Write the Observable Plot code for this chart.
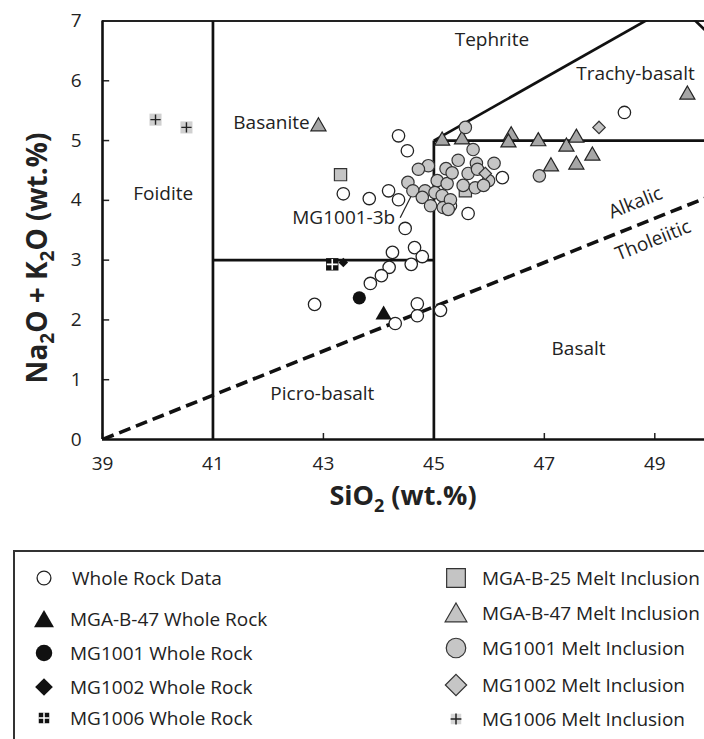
<!DOCTYPE html>
<html>
<head>
<meta charset="utf-8">
<script src="https://cdn.jsdelivr.net/npm/d3@7"></script>
<script src="https://cdn.jsdelivr.net/npm/@observablehq/plot@0.6"></script>
<style>
html,body{margin:0;padding:0;background:#fff;}
body{width:704px;height:739px;overflow:hidden;position:relative;font-family:"Open Sans",sans-serif;color:#222;}
#chart{position:absolute;left:0;top:0;}
#legend{position:absolute;left:13px;top:550px;width:760px;height:240px;border-top:2px solid #333;border-left:2px solid #333;}
.item{position:absolute;height:26px;display:flex;align-items:center;white-space:nowrap;font-size:19px;color:#222;}
.sym{position:absolute;}
</style>
</head>
<body>
<div id="chart"></div>
<div id="legend"></div>
<script>
// ---------- axis ticks ----------
const xTicks = [39, 41, 43, 45, 47, 49];
const yTicks = [0, 1, 2, 3, 4, 5, 6, 7];

// ---------- TAS field boundaries [x1, y1, x2, y2] ----------
const boundaries = [
  [41, 0, 41, 7],
  [41, 3, 45, 3],
  [45, 0, 45, 5],
  [45, 5, 52, 5],
  [45, 5, 49.4, 7.3],
  [52, 5, 49.4, 7.3]
];
// Alkalic / Tholeiitic divide
const alkalicLine = [[39, 0, 52, 4.81]];

// ---------- data: SiO2 and Na2O+K2O ----------
const wrDataSiO2 = [42.84,43.36,43.83,44.18,44.36,44.52,44.36,44.48,44.25,44.65,44.79,44.59,44.19,44.05,43.85,44.70,44.70,44.30,45.12,45.62,48.45,46.24,45.30];
const wrDataAlk  = [2.26,4.11,4.03,4.16,5.08,4.83,4.01,3.53,3.13,3.21,3.06,2.93,2.88,2.74,2.61,2.27,2.07,1.94,2.16,3.78,5.47,4.38,3.91];

const b25MiSiO2 = [43.31, 45.57];
const b25MiAlk  = [4.43, 4.16];

const b47MiSiO2 = [42.91,45.15,45.51,46.40,46.35,46.89,47.40,47.58,47.87,47.12,47.58,49.59];
const b47MiAlk  = [5.27,5.03,5.05,5.12,5.00,5.02,4.93,5.08,4.78,4.60,4.63,5.80];

const mg1001MiSiO2 = [45.57,45.71,45.44,44.90,44.72,45.22,45.77,46.09,45.62,45.79,45.99,45.06,45.24,44.53,44.62,44.84,45.02,45.53,45.75,45.90,44.79,44.94,45.15,45.17,45.30,45.26,46.91,45.33];
const mg1001MiAlk  = [5.22,4.85,4.67,4.58,4.52,4.53,4.62,4.62,4.45,4.52,4.33,4.33,4.28,4.30,4.16,4.16,4.13,4.25,4.21,4.25,4.05,3.91,4.08,3.88,4.01,3.85,4.41,4.46];

const mg1002MiSiO2 = [47.99, 45.93];
const mg1002MiAlk  = [5.22, 4.45];

const mg1006MiSiO2 = [39.96, 40.52];
const mg1006MiAlk  = [5.35, 5.22];

const b47WrSiO2 = [44.09];    const b47WrAlk = [2.12];
const mg1001WrSiO2 = [43.65]; const mg1001WrAlk = [2.37];
const mg1002WrSiO2 = [43.36]; const mg1002WrAlk = [2.96];
const mg1006WrSiO2 = [43.16]; const mg1006WrAlk = [2.93];

// ---------- labels ----------
const regionLabels = ["Foidite", "Basanite", "Tephrite", "Trachy-basalt", "Picro-basalt", "Basalt"];
const regionX = [40.10, 42.06, 46.05, 48.65, 42.98, 47.62];
const regionY = [4.10, 5.30, 6.69, 6.12, 0.77, 1.52];

const noteLabel = ["MG1001-3b"];
const noteX = [44.30], noteY = [3.71];
const noteLeader = [[44.39, 3.71, 44.61, 4.11]];

const divideLabels = ["Alkalic", "Tholeiitic"];
const divideX = [48.65, 48.97];
const divideY = [3.96, 3.33];

const legendLeft = ["Whole Rock Data", "MGA-B-47 Whole Rock", "MG1001 Whole Rock", "MG1002 Whole Rock", "MG1006 Whole Rock"];
const legendRight = ["MGA-B-25 Melt Inclusion", "MGA-B-47 Melt Inclusion", "MG1001 Melt Inclusion", "MG1002 Melt Inclusion", "MG1006 Melt Inclusion"];

// ---------- helpers ----------
const zip = (xs, ys) => xs.map((x, i) => ({x, y: ys[i]}));
const segs = a => a.map(([x1, y1, x2, y2]) => ({x1, y1, x2, y2}));
const H = 530;
const INK = "#222";
const FS = 19;

const chart = Plot.plot({
  width: 704,
  height: H,
  marginLeft: 102,
  marginRight: 0,
  marginTop: 20.5,
  marginBottom: H - 439,
  x: {domain: [39, 49.9]},
  y: {domain: [0, 7]},
  style: {fontFamily: '"Open Sans", sans-serif', fontSize: FS + "px", background: "#fff", color: INK, overflow: "visible"},
  marks: [
    Plot.axisX(xTicks, {tickSize: 0, tickPadding: 17, label: null, fontSize: FS, tickFormat: d => String(d)}),
    Plot.axisY(yTicks, {tickSize: 0, tickPadding: 21, label: null, fontSize: FS, tickFormat: d => String(d)}),
    Plot.ruleX(xTicks, {y1: 0, y2: 0.1, stroke: INK, strokeWidth: 1.5}),
    Plot.ruleY(yTicks.slice(1, -1), {x1: 39, x2: 39.13, stroke: INK, strokeWidth: 1.5}),
    Plot.ruleY([7], {stroke: INK, strokeWidth: 2}),
    Plot.link(segs(boundaries), {x1: "x1", y1: "y1", x2: "x2", y2: "y2", stroke: "#111", strokeWidth: 2.7, clip: true}),
    Plot.link(segs(alkalicLine), {x1: "x1", y1: "y1", x2: "x2", y2: "y2", stroke: "#111", strokeWidth: 3.6, strokeDasharray: "12,6", clip: true}),
    Plot.ruleX([39], {stroke: "#111", strokeWidth: 2.6}),
    Plot.ruleY([0], {stroke: "#111", strokeWidth: 2.6}),
    Plot.link(segs(noteLeader), {x1: "x1", y1: "y1", x2: "x2", y2: "y2", stroke: INK, strokeWidth: 1.2}),

    // whole-rock data
    Plot.dot(zip(wrDataSiO2, wrDataAlk), {x: "x", y: "y", r: 6.2, fill: "#fff", stroke: INK, strokeWidth: 1.3}),
    // melt inclusions
    Plot.dot(zip(b25MiSiO2, b25MiAlk), {x: "x", y: "y", symbol: "square", r: 6.9, fill: "#c4c4c4", stroke: "#333", strokeWidth: 1.2}),
    Plot.dot(zip(b47MiSiO2, b47MiAlk), {x: "x", y: "y", symbol: "triangle", r: 5.6, dy: 2, fill: "#a6a6a6", stroke: INK, strokeWidth: 1.2}),
    Plot.dot(zip(mg1001MiSiO2, mg1001MiAlk), {x: "x", y: "y", r: 6.2, fill: "#c6c6c6", stroke: "#333", strokeWidth: 1.2}),
    Plot.dot(zip(mg1002MiSiO2, mg1002MiAlk), {x: "x", y: "y", symbol: "diamond2", r: 5.6, fill: "#c4c4c4", stroke: "#333", strokeWidth: 1.2}),
    Plot.dot(zip(mg1006MiSiO2, mg1006MiAlk), {x: "x", y: "y", symbol: "square", r: 6.8, fill: "#d0d0d0", stroke: "none"}),
    Plot.dot(zip(mg1006MiSiO2, mg1006MiAlk), {x: "x", y: "y", symbol: "plus", r: 3.4, stroke: INK, strokeWidth: 1.4}),
    // whole rock of the samples
    Plot.dot(zip(mg1006WrSiO2, mg1006WrAlk), {x: "x", y: "y", symbol: "square", r: 7, fill: "#111", stroke: "none"}),
    Plot.dot(zip(mg1006WrSiO2, mg1006WrAlk), {x: "x", y: "y", symbol: "plus", r: 3.6, stroke: "#fff", strokeWidth: 1.6}),
    Plot.dot(zip(mg1002WrSiO2, mg1002WrAlk), {x: "x", y: "y", symbol: "diamond2", r: 4.3, fill: "#111", stroke: "none"}),
    Plot.dot(zip(mg1001WrSiO2, mg1001WrAlk), {x: "x", y: "y", r: 6.6, fill: "#111", stroke: "none"}),
    Plot.dot(zip(b47WrSiO2, b47WrAlk), {x: "x", y: "y", symbol: "triangle", r: 6, dy: 2, fill: "#111", stroke: "none"}),

    // labels
    Plot.text(regionLabels, {x: (d, i) => regionX[i], y: (d, i) => regionY[i], text: d => d, fontSize: FS, fill: INK}),
    Plot.text(noteLabel, {x: (d, i) => noteX[i], y: (d, i) => noteY[i], text: d => d, fontSize: FS, fill: INK, textAnchor: "end"}),
    Plot.text(divideLabels, {x: (d, i) => divideX[i], y: (d, i) => divideY[i], text: d => d, fontSize: FS, fill: INK, rotate: -21.8})
  ]
});
document.getElementById("chart").appendChild(chart);

// axis titles with subscripts
const svg = d3.select(chart);
const xt = svg.append("text")
  .attr("x", 403).attr("y", 505).attr("text-anchor", "middle")
  .attr("font-family", '"Open Sans", sans-serif').attr("font-weight", "bold").attr("font-size", 27).attr("fill", INK);
xt.append("tspan").text("SiO");
xt.append("tspan").attr("font-size", 18).attr("dy", 7).text("2");
xt.append("tspan").attr("dy", -7).text(" (wt.%)");

const yt = svg.append("text")
  .attr("transform", "translate(47,258) rotate(-90)").attr("text-anchor", "middle")
  .attr("font-family", '"Open Sans", sans-serif').attr("font-weight", "bold").attr("font-size", 28).attr("fill", INK);
yt.append("tspan").text("Na");
yt.append("tspan").attr("font-size", 19).attr("dy", 7).text("2");
yt.append("tspan").attr("dy", -7).text("O + K");
yt.append("tspan").attr("font-size", 19).attr("dy", 7).text("2");
yt.append("tspan").attr("dy", -7).text("O (wt.%)");

// ---------- legend ----------
const legend = d3.select("#legend");
const LX = 15, LY = 552; // legend box origin in page coordinates
const leftRows = [578, 619, 653, 687, 718];
const rightRows = [578, 613, 648, 685, 719];
const leftStyle = [
  {type: d3.symbolCircle, size: 150, fill: "#fff", stroke: INK, sw: 1.3},
  {type: d3.symbolTriangle, size: 173, fill: "#111", stroke: "none", sw: 0},
  {type: d3.symbolCircle, size: 214, fill: "#111", stroke: "none", sw: 0},
  {type: d3.symbolDiamond2, size: 200, fill: "#111", stroke: "none", sw: 0},
  {type: d3.symbolSquare, size: 110, fill: "#111", stroke: "none", sw: 0, plus: "#fff"}
];
const rightStyle = [
  {type: d3.symbolSquare, size: 350, fill: "#c4c4c4", stroke: "#333", sw: 1.2},
  {type: d3.symbolTriangle, size: 205, fill: "#c4c4c4", stroke: "#333", sw: 1.2},
  {type: d3.symbolCircle, size: 300, fill: "#c6c6c6", stroke: "#333", sw: 1.2},
  {type: d3.symbolDiamond2, size: 290, fill: "#c6c6c6", stroke: "#333", sw: 1.2},
  {type: d3.symbolSquare, size: 110, fill: "#d6d6d6", stroke: "none", sw: 0, plus: INK}
];
function addItem(label, st, cx, cy, tx) {
  const s = legend.append("svg").attr("class", "sym")
    .attr("width", 30).attr("height", 30)
    .style("left", (cx - 15 - LX) + "px").style("top", (cy - 15 - LY) + "px");
  const off = st.type === d3.symbolTriangle ? 17.5 : 15;
  s.append("path").attr("transform", `translate(15,${off})`)
    .attr("d", d3.symbol(st.type, st.size)())
    .attr("fill", st.fill).attr("stroke", st.stroke).attr("stroke-width", st.sw);
  if (st.plus) {
    s.append("path").attr("transform", "translate(15,15)")
      .attr("d", d3.symbol(d3.symbolPlus, 40)())
      .attr("fill", "none").attr("stroke", st.plus).attr("stroke-width", 1.5);
  }
  legend.append("div").attr("class", "item")
    .style("left", (tx - LX) + "px").style("top", (cy - 13 - LY) + "px")
    .text(label);
}
legendLeft.forEach((l, i) => addItem(l, leftStyle[i], 44, leftRows[i], i === 0 ? 72 : 70));
legendRight.forEach((l, i) => addItem(l, rightStyle[i], 456, rightRows[i], 482));
</script>
</body>
</html>
